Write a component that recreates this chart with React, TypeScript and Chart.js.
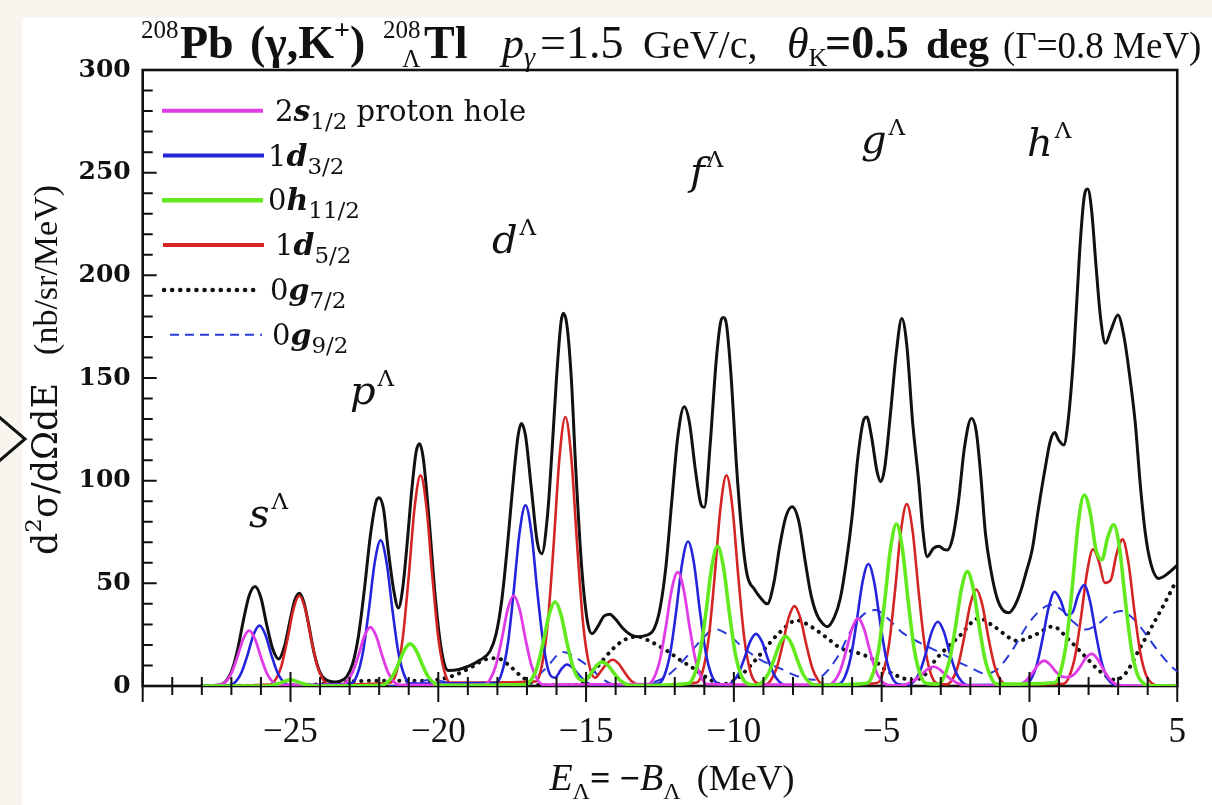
import React, { useEffect, useRef } from "react";
import { Chart, registerables } from "chart.js";
Chart.register(...registerables);

// ---------------- data ----------------
const energyLimits = [-30, 5];
const yieldLimits = [0, 300];
const energyLabelTicks = [-30, -25, -20, -15, -10, -5, 0, 5];
const energyMinorTicks = [-30, -29, -28, -27, -26, -25, -24, -23, -22, -21, -20, -19, -18, -17, -16, -15, -14, -13, -12, -11, -10, -9, -8, -7, -6, -5, -4, -3, -2, -1, 0, 1, 2, 3, 4, 5];
const yieldLabelTicks = [0, 50, 100, 150, 200, 250, 300];
const yieldMinorTicks = [0, 10, 20, 30, 40, 50, 60, 70, 80, 90, 100, 110, 120, 130, 140, 150, 160, 170, 180, 190, 200, 210, 220, 230, 240, 250, 260, 270, 280, 290, 300];

const totalSpectrum = [
  [-28, 0], [-27.4, 0.5], [-27.2, 2.1], [-27.0, 6.9], [-26.8, 17], [-26.6, 31.5], [-26.4, 44], [-26.2, 48.5], [-26.0, 43], [-25.8, 29.5], [-25.6, 18], [-25.4, 13.2], [-25.2, 19.5], [-25.0, 33], [-24.85, 42], [-24.7, 45.2], [-24.55, 41], [-24.4, 31], [-24.2, 16], [-24.0, 6.5], [-23.8, 3], [-23.5, 2], [-23.3, 2.5], [-23.1, 4.5], [-22.9, 10.7], [-22.7, 24.4], [-22.5, 47], [-22.3, 73], [-22.1, 90], [-22.0, 91.7], [-21.85, 86], [-21.7, 67], [-21.5, 46], [-21.35, 38], [-21.2, 48], [-21.05, 70], [-20.9, 95], [-20.75, 114], [-20.63, 118], [-20.5, 110], [-20.3, 79], [-20.1, 43], [-19.9, 18], [-19.66, 7.5], [-19.3, 8], [-19.0, 9.5], [-18.6, 12.5], [-18.25, 17], [-18.05, 25], [-17.85, 42], [-17.65, 70], [-17.45, 102], [-17.3, 122], [-17.19, 127.8], [-17.05, 122], [-16.85, 96], [-16.65, 70], [-16.5, 64.4], [-16.3, 84], [-16.15, 115], [-16.0, 150], [-15.85, 177], [-15.77, 181.5], [-15.65, 176], [-15.5, 150], [-15.35, 106], [-15.15, 58], [-14.95, 31], [-14.8, 25.5], [-14.6, 29], [-14.4, 34], [-14.2, 35], [-14.0, 32.5], [-13.75, 28], [-13.5, 25], [-13.25, 24], [-13.0, 24.5], [-12.7, 27.8], [-12.5, 37.6], [-12.3, 58], [-12.1, 90], [-11.9, 121], [-11.68, 136], [-11.5, 128], [-11.3, 105], [-11.1, 88], [-11.0, 87], [-10.8, 118], [-10.6, 158], [-10.45, 177], [-10.36, 179.5], [-10.25, 176], [-10.1, 152], [-9.9, 105], [-9.7, 70], [-9.55, 54], [-9.3, 47], [-9.1, 43], [-8.87, 40], [-8.65, 50], [-8.45, 68], [-8.25, 82], [-8.03, 87.3], [-7.8, 80], [-7.6, 62], [-7.4, 45], [-7.2, 35], [-7.0, 30.5], [-6.84, 28.9], [-6.6, 33.5], [-6.4, 42.6], [-6.2, 60], [-6.0, 82.5], [-5.8, 112], [-5.6, 130], [-5.5, 131], [-5.35, 122], [-5.15, 104], [-5.03, 99.5], [-4.9, 106], [-4.7, 133], [-4.5, 163], [-4.32, 179], [-4.15, 166], [-3.95, 128], [-3.74, 98.7], [-3.6, 75], [-3.46, 63], [-3.25, 67], [-3.06, 68], [-2.9, 66.5], [-2.78, 66.2], [-2.6, 72], [-2.4, 90], [-2.2, 116], [-1.96, 130.4], [-1.8, 124], [-1.65, 103], [-1.49, 74.4], [-1.3, 56], [-1.1, 43], [-0.9, 37], [-0.7, 35.7], [-0.5, 39], [-0.3, 46], [-0.1, 56], [0.09, 66.2], [0.3, 86], [0.54, 106.8], [0.7, 119], [0.85, 123.4], [1.0, 119.5], [1.16, 117.4], [1.3, 128], [1.5, 162], [1.7, 212], [1.85, 238], [1.97, 242], [2.1, 232], [2.25, 205], [2.4, 180], [2.57, 166.9], [2.75, 173], [2.99, 180.7], [3.2, 170], [3.4, 150], [3.58, 128], [3.75, 98], [3.92, 74.4], [4.1, 60], [4.37, 52.4], [4.7, 55], [5.0, 58.9],
];

const holeS12 = [
  [-28, 0], [-27.4, 0.5], [-27.2, 2.0], [-27.0, 6.2], [-26.8, 14.0], [-26.6, 22.9], [-26.4, 27], [-26.2, 22.9], [-26.0, 14.0], [-25.8, 6.2], [-25.6, 2.0], [-25.4, 0.5],
  [-23.3, 0.5], [-23.1, 2.1], [-22.9, 6.6], [-22.7, 14.9], [-22.5, 24.3], [-22.3, 28.6], [-22.1, 24.3], [-21.9, 14.9], [-21.7, 6.6], [-21.5, 2.1], [-21.3, 0.5],
  [-18.45, 0.7], [-18.25, 3.2], [-18.05, 10.1], [-17.85, 22.9], [-17.65, 37.4], [-17.45, 44], [-17.25, 37.4], [-17.05, 22.9], [-16.85, 10.1], [-16.65, 3.2], [-16.45, 0.7],
  [-12.9, 0.9], [-12.7, 4.1], [-12.5, 12.8], [-12.3, 28.9], [-12.1, 47.1], [-11.9, 55.5], [-11.7, 47.1], [-11.5, 28.9], [-11.3, 12.8], [-11.1, 4.1], [-10.9, 0.9],
  [-6.8, 0.6], [-6.6, 2.4], [-6.4, 7.6], [-6.2, 17.2], [-6.0, 28.0], [-5.8, 33], [-5.6, 28.0], [-5.4, 17.2], [-5.2, 7.6], [-5.0, 2.4], [-4.8, 0.6],
  [-4.35, 0.3], [-4.1, 1.2], [-3.85, 3.2], [-3.65, 5.6], [-3.45, 8.2], [-3.25, 9.4], [-3.05, 8.2], [-2.85, 5.6], [-2.65, 3.2], [-2.4, 1.2], [-2.15, 0.3],
  [-0.5, 0.2], [-0.3, 0.9], [-0.1, 2.8], [0.1, 6.4], [0.3, 10.4], [0.5, 12.3], [0.7, 10.4], [0.9, 6.8], [1.1, 4.6], [1.3, 4.3], [1.5, 5.5], [1.7, 9.0], [1.9, 13.5], [2.1, 15.6], [2.3, 13.2], [2.5, 8.1], [2.7, 3.6], [2.9, 1.1], [3.1, 0.3], [5, 0],
];

const holeD32 = [
  [-28, 0], [-27.05, 0.5], [-26.85, 2.1], [-26.65, 6.8], [-26.45, 15.3], [-26.25, 25.0], [-26.05, 29.4], [-25.85, 25.0], [-25.65, 15.3], [-25.45, 6.8], [-25.25, 2.1], [-25.05, 0.5],
  [-22.95, 1.2], [-22.75, 5.2], [-22.55, 16.3], [-22.35, 36.9], [-22.15, 60.2], [-21.95, 70.9], [-21.75, 60.2], [-21.55, 36.9], [-21.35, 16.3], [-21.15, 5.2], [-20.95, 1.2],
  [-18.05, 1.5], [-17.85, 6.4], [-17.65, 20.2], [-17.45, 45.8], [-17.25, 74.7], [-17.05, 88], [-16.85, 74.7], [-16.65, 46.0], [-16.45, 21.0], [-16.25, 6.5], [-16.05, 4.0], [-15.85, 8.0], [-15.65, 10.5], [-15.45, 8.9], [-15.25, 5.5], [-15.05, 2.4], [-14.85, 0.8], [-14.65, 0.2],
  [-12.55, 1.2], [-12.35, 5.1], [-12.15, 16.2], [-11.95, 36.6], [-11.75, 59.8], [-11.55, 70.4], [-11.35, 59.8], [-11.15, 36.6], [-10.95, 16.2], [-10.75, 5.1], [-10.55, 1.2],
  [-10.25, 0.4], [-10.05, 1.9], [-9.85, 5.8], [-9.65, 13.2], [-9.45, 21.6], [-9.25, 25.4], [-9.05, 21.6], [-8.85, 13.2], [-8.65, 5.8], [-8.45, 1.9], [-8.25, 0.4],
  [-6.45, 1.0], [-6.25, 4.3], [-6.05, 13.7], [-5.85, 30.9], [-5.65, 50.4], [-5.45, 59.4], [-5.25, 50.4], [-5.05, 30.9], [-4.85, 13.7], [-4.65, 4.3], [-4.45, 1.0],
  [-4.1, 0.5], [-3.9, 2.3], [-3.7, 7.2], [-3.5, 16.3], [-3.3, 26.6], [-3.1, 31.3], [-2.9, 26.6], [-2.7, 16.3], [-2.5, 7.2], [-2.3, 2.3], [-2.1, 0.5],
  [-0.15, 0.8], [0.05, 3.3], [0.25, 10.4], [0.45, 23.5], [0.65, 38.3], [0.85, 45.9], [1.05, 41.8], [1.25, 34.6], [1.45, 35.6], [1.65, 44.4], [1.85, 49.2], [2.05, 41.2], [2.25, 25.2], [2.45, 11.1], [2.65, 3.5], [2.85, 0.8], [3.05, 0.15], [5, 0],
];

const holeH112 = [
  [-28, 0], [-25.8, 0], [-25.4, 1.2], [-25.0, 3], [-24.6, 1.2], [-24.2, 0],
  [-21.95, 0.3], [-21.75, 1.5], [-21.55, 4.7], [-21.35, 10.7], [-21.15, 17.4], [-20.95, 20.5], [-20.75, 17.4], [-20.55, 10.7], [-20.35, 4.7], [-20.15, 1.5], [-19.95, 0.3],
  [-17.05, 0.7], [-16.85, 3.0], [-16.65, 9.4], [-16.45, 21.3], [-16.25, 34.8], [-16.05, 41], [-15.85, 34.8], [-15.65, 21.3], [-15.45, 9.6], [-15.25, 3.6], [-15.05, 2.6], [-14.85, 5.8], [-14.65, 9.9], [-14.45, 11.7], [-14.25, 9.9], [-14.05, 6.1], [-13.85, 2.7], [-13.65, 0.9], [-13.45, 0.2],
  [-11.55, 1.2], [-11.35, 5.0], [-11.15, 15.6], [-10.95, 35.4], [-10.75, 57.7], [-10.55, 68], [-10.35, 57.7], [-10.15, 35.4], [-9.95, 15.6], [-9.75, 5.0], [-9.55, 1.2],
  [-9.25, 0.4], [-9.05, 1.8], [-8.85, 5.6], [-8.65, 12.6], [-8.45, 20.5], [-8.25, 24.2], [-8.05, 20.5], [-7.85, 12.6], [-7.65, 5.6], [-7.45, 1.8], [-7.25, 0.4],
  [-5.5, 1.3], [-5.3, 5.8], [-5.1, 18.1], [-4.9, 41.0], [-4.7, 67.0], [-4.5, 78.9], [-4.3, 67.0], [-4.1, 41.0], [-3.9, 18.1], [-3.7, 5.8], [-3.5, 1.3],
  [-3.1, 0.9], [-2.9, 4.1], [-2.7, 12.8], [-2.5, 29.0], [-2.3, 47.3], [-2.1, 55.7], [-1.9, 47.3], [-1.7, 29.0], [-1.5, 12.8], [-1.3, 4.1], [-1.1, 0.9],
  [0.85, 1.6], [1.05, 6.8], [1.25, 21.4], [1.45, 48.4], [1.65, 79.0], [1.85, 93], [2.05, 84.7], [2.25, 66.4], [2.45, 61.5], [2.65, 72.5], [2.85, 78.5], [3.05, 66.9], [3.25, 40.8], [3.45, 18.0], [3.65, 5.7], [3.85, 1.3], [4.05, 0.2], [5, 0],
];

const holeD52 = [
  [-28, 0], [-25.7, 0.7], [-25.5, 3.2], [-25.3, 10.1], [-25.1, 22.9], [-24.9, 37.4], [-24.7, 44], [-24.5, 37.4], [-24.3, 22.9], [-24.1, 10.1], [-23.9, 3.2], [-23.7, 0.7],
  [-21.6, 1.7], [-21.4, 7.5], [-21.2, 23.6], [-21.0, 53.4], [-20.8, 87.1], [-20.6, 102.6], [-20.4, 87.1], [-20.2, 53.4], [-20.0, 23.6], [-19.8, 7.5], [-19.6, 1.7],
  [-16.7, 2.2], [-16.5, 9.6], [-16.3, 30.1], [-16.1, 68.1], [-15.9, 111.2], [-15.7, 131], [-15.5, 111.2], [-15.3, 68.1], [-15.1, 30.3], [-14.9, 10.5], [-14.7, 4.0], [-14.5, 7.2], [-14.3, 10.9], [-14.1, 12.8], [-13.9, 10.9], [-13.7, 6.7], [-13.5, 2.9], [-13.3, 0.9], [-13.1, 0.2],
  [-11.25, 1.7], [-11.05, 7.5], [-10.85, 23.6], [-10.65, 53.4], [-10.45, 87.1], [-10.25, 102.6], [-10.05, 87.1], [-9.85, 53.4], [-9.65, 23.6], [-9.45, 7.5], [-9.25, 1.7],
  [-8.95, 0.7], [-8.75, 2.8], [-8.55, 8.9], [-8.35, 20.2], [-8.15, 33.0], [-7.95, 38.9], [-7.75, 33.0], [-7.55, 20.2], [-7.35, 8.9], [-7.15, 2.8], [-6.95, 0.7],
  [-5.15, 1.5], [-4.95, 6.5], [-4.75, 20.4], [-4.55, 46.1], [-4.35, 75.2], [-4.15, 88.6], [-3.95, 75.2], [-3.75, 46.1], [-3.55, 20.4], [-3.35, 6.5], [-3.15, 1.5],
  [-2.8, 0.8], [-2.6, 3.4], [-2.4, 10.8], [-2.2, 24.4], [-2.0, 39.9], [-1.8, 47], [-1.6, 39.9], [-1.4, 24.4], [-1.2, 10.8], [-1.0, 3.4], [-0.8, 0.8],
  [1.15, 1.1], [1.35, 4.8], [1.55, 15.0], [1.75, 34.0], [1.95, 55.5], [2.15, 66.6], [2.35, 60.6], [2.55, 50.2], [2.75, 51.6], [2.95, 64.5], [3.15, 71.4], [3.35, 59.9], [3.55, 36.6], [3.75, 16.2], [3.95, 5.1], [4.15, 1.2], [4.35, 0.2], [5, 0],
];

const holeG72 = [
  [-28, 0], [-24.5, 0.5], [-23.5, 1.5], [-22.5, 2.5], [-21.5, 2.5], [-20.5, 2.5], [-19.6, 4.5], [-18.85, 9.4], [-18.4, 13], [-18.0, 13.5], [-17.6, 10], [-17.25, 5.4], [-16.9, 2], [-16.6, 0.5], [-15.6, 0.3], [-15.2, 1], [-14.7, 8], [-14.1, 18], [-13.7, 22.5], [-13.25, 24], [-12.8, 21.5], [-12.3, 17.5], [-11.8, 12.5], [-11.28, 7.8], [-10.8, 3], [-10.4, 0.8], [-9.9, 3.5], [-9.37, 11], [-8.9, 19], [-8.47, 25.8], [-7.86, 32], [-7.4, 29], [-6.9, 24], [-6.4, 18.5], [-5.9, 16.5], [-5.3, 13], [-4.86, 7.8], [-4.4, 4.5], [-3.97, 2.8], [-3.5, 6], [-3.18, 12.7], [-2.8, 18.5], [-2.39, 24], [-1.7, 33], [-1.2, 29], [-0.4, 22], [0.2, 25], [0.8, 29], [1.3, 23], [1.89, 14.3], [2.4, 7], [2.9, 3], [3.3, 7], [3.58, 14.3], [4.14, 28.9], [4.6, 41], [4.98, 51.6],
];

const holeG92 = [
  [-28, 0], [-21.5, 0], [-20.9, 1.5], [-20.2, 3], [-19.5, 1.2], [-18.5, 0.3], [-17.3, 0.5], [-16.9, 2], [-16.4, 8], [-15.78, 16.5], [-15.2, 12.5], [-14.8, 8], [-14.4, 3], [-14.0, 0.5], [-13.3, 0.3], [-12.8, 1.5], [-12.3, 4.5], [-11.8, 11], [-11.4, 17.5], [-11.0, 24], [-10.67, 27.8], [-10.2, 25], [-9.59, 17.5], [-9.0, 12], [-8.46, 8.7], [-7.9, 5], [-7.3, 3], [-7.0, 5], [-6.5, 14], [-6.0, 28], [-5.6, 35], [-5.2, 37], [-4.8, 33], [-4.3, 26], [-3.7, 21], [-3.2, 17.5], [-2.6, 13], [-2.0, 9], [-1.5, 6], [-1.1, 8], [-0.6, 17], [-0.1, 29], [0.3, 36], [0.7, 39.5], [1.1, 37], [1.5, 31], [1.9, 27.5], [2.3, 30], [2.7, 34.5], [3.1, 36.5], [3.5, 33], [3.9, 26], [4.3, 18], [4.7, 11], [5.0, 7],
];

// ---------------- styling ----------------
const SERIF = '"Liberation Serif", "Times New Roman", serif';
const WIDE = '"DejaVu Serif", serif';
const INK = "#111111";
const MAGENTA = "#e03ce6";
const BLUE = "#2424dc";
const GREEN = "#62ea1f";
const RED = "#d42424";
const DASHBLUE = "#2a3ad8";

type Run = { t: string; f: string; dy?: number; at?: number; back?: boolean; gap?: number };

function runsWidth(ctx: CanvasRenderingContext2D, runs: Run[]) {
  let w = 0;
  for (const r of runs) {
    ctx.font = r.f;
    if (!r.back) w += ctx.measureText(r.t).width + (r.gap || 0);
  }
  return w;
}

function drawRuns(ctx: CanvasRenderingContext2D, x0: number, y0: number, runs: Run[]) {
  let x = x0;
  for (const r of runs) {
    ctx.font = r.f;
    if (r.at !== undefined) x = r.at;
    x += r.gap || 0;
    const w = ctx.measureText(r.t).width;
    ctx.fillText(r.t, r.back ? x - w : x, y0 + (r.dy || 0));
    if (!r.back) x += w;
  }
}

const titleRuns: Run[] = [
  { t: "208", f: `25px ${SERIF}`, dy: -20, at: 141 },
  { t: "Pb", f: `bold 46px ${SERIF}`, at: 180 },
  { t: "(\u03b3,K", f: `bold 46px ${SERIF}`, at: 250 },
  { t: "+", f: `bold 28px ${SERIF}`, dy: -19 },
  { t: ")", f: `bold 46px ${SERIF}` },
  { t: "208", f: `25px ${SERIF}`, dy: -20, at: 383 },
  { t: "\u039b", f: `25px ${SERIF}`, dy: 9, back: true },
  { t: "Tl", f: `bold 46px ${SERIF}`, at: 424 },
  { t: "p", f: `italic 44px ${SERIF}`, at: 502 },
  { t: "\u03b3", f: `italic 28px ${SERIF}`, dy: 8 },
  { t: "=1.5", f: `46px ${SERIF}`, at: 540 },
  { t: "GeV/c,", f: `40px ${SERIF}`, at: 643 },
  { t: "\u03b8", f: `italic 44px ${SERIF}`, at: 787 },
  { t: "K", f: `26px ${SERIF}`, dy: 8 },
  { t: "=0.5", f: `bold 46px ${SERIF}`, at: 825 },
  { t: "deg", f: `bold 42px ${SERIF}`, at: 926 },
  { t: "(\u0393=0.8 MeV)", f: `37px ${SERIF}`, at: 1003 },
];

const xTitleRuns: Run[] = [
  { t: "E", f: `italic 38px ${SERIF}` },
  { t: "\u039b", f: `24px ${SERIF}`, dy: 9 },
  { t: "= \u2212", f: `bold 36px ${SERIF}` },
  { t: "B", f: `italic 38px ${SERIF}` },
  { t: "\u039b", f: `24px ${SERIF}`, dy: 9 },
  { t: "(MeV)", f: `36px ${SERIF}`, gap: 16 },
];

const yTitleRuns: Run[] = [
  { t: "d", f: `35px ${WIDE}` },
  { t: "2", f: `23px ${WIDE}`, dy: -16 },
  { t: "\u03c3/d\u03a9dE", f: `35px ${WIDE}` },
  { t: "(nb/sr/MeV)", f: `34px ${SERIF}`, gap: 28 },
];

const legendRows = [
  { y: 110.7, x1: 162, x2: 263, tx: 275, color: MAGENTA, width: 4, dash: [] as number[], runs: [["2", "", ""], ["s", "1/2", " proton hole"]] },
  { y: 155.5, x1: 163, x2: 264, tx: 268, color: BLUE, width: 4, dash: [] as number[], runs: [["1", "", ""], ["d", "3/2", ""]] },
  { y: 200.3, x1: 162, x2: 263, tx: 268, color: GREEN, width: 4.5, dash: [] as number[], runs: [["0", "", ""], ["h", "11/2", ""]] },
  { y: 245.1, x1: 163, x2: 264, tx: 275, color: RED, width: 4, dash: [] as number[], runs: [["1", "", ""], ["d", "5/2", ""]] },
  { y: 289.9, x1: 164, x2: 261, tx: 270, color: INK, width: 4.5, dash: [0.1, 8], runs: [["0", "", ""], ["g", "7/2", ""]] },
  { y: 334.7, x1: 170, x2: 262, tx: 272, color: DASHBLUE, width: 2, dash: [9, 6], runs: [["0", "", ""], ["g", "9/2", ""]] },
];

const peakLabels = [
  { t: "s", x: 249, y: 527 },
  { t: "p", x: 350, y: 404 },
  { t: "d", x: 492, y: 253 },
  { t: "f", x: 690, y: 185 },
  { t: "g", x: 861, y: 153 },
  { t: "h", x: 1027, y: 156 },
];

const framePlugin = {
  id: "frameAndTicks",
  beforeDatasetsDraw(chart: any) {
    const { ctx, chartArea: a } = chart;
    ctx.save();
    ctx.strokeStyle = INK;
    ctx.lineWidth = 2.6;
    ctx.strokeRect(a.left, a.top, a.right - a.left, a.bottom - a.top);
    ctx.restore();
  },
  afterDatasetsDraw(chart: any) {
    const { ctx, chartArea: a, scales } = chart;
    const xs = scales.x;
    const ys = scales.y;
    ctx.save();
    ctx.strokeStyle = INK;
    ctx.lineWidth = 2;
    ctx.beginPath();
    for (const v of energyMinorTicks) {
      const px = xs.getPixelForValue(v);
      const major = energyLabelTicks.includes(v);
      ctx.moveTo(px, a.bottom - (major ? 14 : 9));
      ctx.lineTo(px, a.bottom + (major ? 16 : 9));
    }
    for (const v of yieldMinorTicks) {
      const py = ys.getPixelForValue(v);
      const major = yieldLabelTicks.includes(v);
      ctx.moveTo(a.left, py);
      ctx.lineTo(a.left + (major ? 14 : 10), py);
    }
    ctx.stroke();
    ctx.restore();
  },
  afterDraw(chart: any) {
    const { ctx } = chart;
    ctx.save();
    ctx.fillStyle = INK;
    ctx.textBaseline = "alphabetic";
    ctx.textAlign = "left";
    // title
    drawRuns(ctx, 141, 58, titleRuns);
    // x-axis title
    const xw = runsWidth(ctx, xTitleRuns);
    drawRuns(ctx, 672 - xw / 2, 790, xTitleRuns);
    // y-axis title (rotated)
    ctx.save();
    ctx.translate(57, 370);
    ctx.rotate(-Math.PI / 2);
    const yw = runsWidth(ctx, yTitleRuns);
    drawRuns(ctx, -yw / 2, 0, yTitleRuns);
    ctx.restore();
    // legend
    for (const row of legendRows) {
      ctx.save();
      ctx.strokeStyle = row.color;
      ctx.lineWidth = row.width;
      ctx.lineCap = row.dash.length && row.dash[0] < 1 ? "round" : "butt";
      ctx.setLineDash(row.dash);
      ctx.beginPath();
      ctx.moveTo(row.x1, row.y);
      ctx.lineTo(row.x2, row.y);
      ctx.stroke();
      ctx.restore();
      const [[num], [orb, sub, tail]] = row.runs as any;
      const runs: Run[] = [
        { t: num, f: `29px ${WIDE}` },
        { t: orb, f: `bold italic 30px ${WIDE}` },
        { t: sub, f: `23px ${WIDE}`, dy: 8 },
      ];
      if (tail) runs.push({ t: tail, f: `29px ${WIDE}` });
      drawRuns(ctx, row.tx, row.y + 10, runs);
    }
    // peak labels
    for (const p of peakLabels) {
      ctx.font = `italic 40px ${WIDE}`;
      ctx.fillText(p.t, p.x, p.y);
      const w = ctx.measureText(p.t).width;
      ctx.font = `23px ${WIDE}`;
      ctx.fillText("\u039b", p.x + w + 2, p.y - 18);
    }
    ctx.restore();
  },
};

const toPoints = (rows: number[][]) => rows.map(([x, y]) => ({ x, y }));

export default function App() {
  const canvasRef = useRef<HTMLCanvasElement | null>(null);

  useEffect(() => {
    const canvas = canvasRef.current;
    if (!canvas) return;
    const common = { pointRadius: 0, pointHoverRadius: 0, fill: false, cubicInterpolationMode: "monotone" as const };
    const chart = new Chart(canvas, {
      type: "line",
      data: {
        datasets: [
          { label: "total", data: toPoints(totalSpectrum), borderColor: INK, borderWidth: 3, order: 10, ...common },
          { label: "0g7/2", data: toPoints(holeG72), borderColor: INK, borderWidth: 4, borderDash: [0.1, 7.5], borderCapStyle: "round", order: 9, ...common },
          { label: "0g9/2", data: toPoints(holeG92), borderColor: DASHBLUE, borderWidth: 2, borderDash: [10, 7], order: 8, ...common },
          { label: "1d5/2", data: toPoints(holeD52), borderColor: RED, borderWidth: 2.6, order: 6, ...common },
          { label: "1d3/2", data: toPoints(holeD32), borderColor: BLUE, borderWidth: 2.6, order: 5, ...common },
          { label: "2s1/2 proton hole", data: toPoints(holeS12), borderColor: MAGENTA, borderWidth: 2.8, order: 4, ...common },
          { label: "0h11/2", data: toPoints(holeH112), borderColor: GREEN, borderWidth: 3.6, order: 3, ...common },
        ] as any,
      },
      options: {
        responsive: false,
        animation: false,
        devicePixelRatio: 1,
        layout: { padding: { left: 0, right: 33, top: 70, bottom: 0 } },
        plugins: { legend: { display: false }, tooltip: { enabled: false }, title: { display: false } },
        scales: {
          x: {
            type: "linear",
            min: energyLimits[0],
            max: energyLimits[1],
            grid: { display: false, drawTicks: false },
            border: { display: false },
            afterBuildTicks: (s: any) => {
              s.ticks = energyLabelTicks.map((v) => ({ value: v }));
            },
            afterFit: (s: any) => {
              s.height = 119;
            },
            ticks: {
              autoSkip: false,
              maxRotation: 0,
              padding: 26,
              color: INK,
              font: { family: SERIF, size: 35 },
              callback: (v: any) => {
                const n = Number(v);
                if (n === energyLimits[0]) return "";
                return n < 0 ? "\u2212" + Math.abs(n) : String(n);
              },
            },
          },
          y: {
            type: "linear",
            min: yieldLimits[0],
            max: yieldLimits[1],
            grid: { display: false, drawTicks: false },
            border: { display: false },
            afterBuildTicks: (s: any) => {
              s.ticks = yieldLabelTicks.map((v) => ({ value: v }));
            },
            afterFit: (s: any) => {
              s.width = 142.7;
            },
            ticks: {
              autoSkip: false,
              padding: 12,
              color: INK,
              font: { family: WIDE, size: 25, weight: "bold" },
            },
          },
        },
      } as any,
      plugins: [framePlugin],
    });
    return () => chart.destroy();
  }, []);

  return (
    <div style={{ position: "absolute", left: 0, top: 0, width: 1212, height: 805, background: "#ffffff", overflow: "hidden" }}>
      <div style={{ position: "absolute", left: 0, top: 0, width: 1212, height: 18, background: "#f8f5ef" }} />
      <div style={{ position: "absolute", left: 0, top: 0, width: 22, height: 805, background: "#f8f5ef" }} />
      <canvas ref={canvasRef} width={1212} height={805} style={{ position: "absolute", left: 0, top: 0 }} />
      <svg width={40} height={80} style={{ position: "absolute", left: 0, top: 400 }}>
        <polyline points="-2,16 25,39 -2,62" fill="none" stroke="#111" strokeWidth={3} />
      </svg>
    </div>
  );
}
